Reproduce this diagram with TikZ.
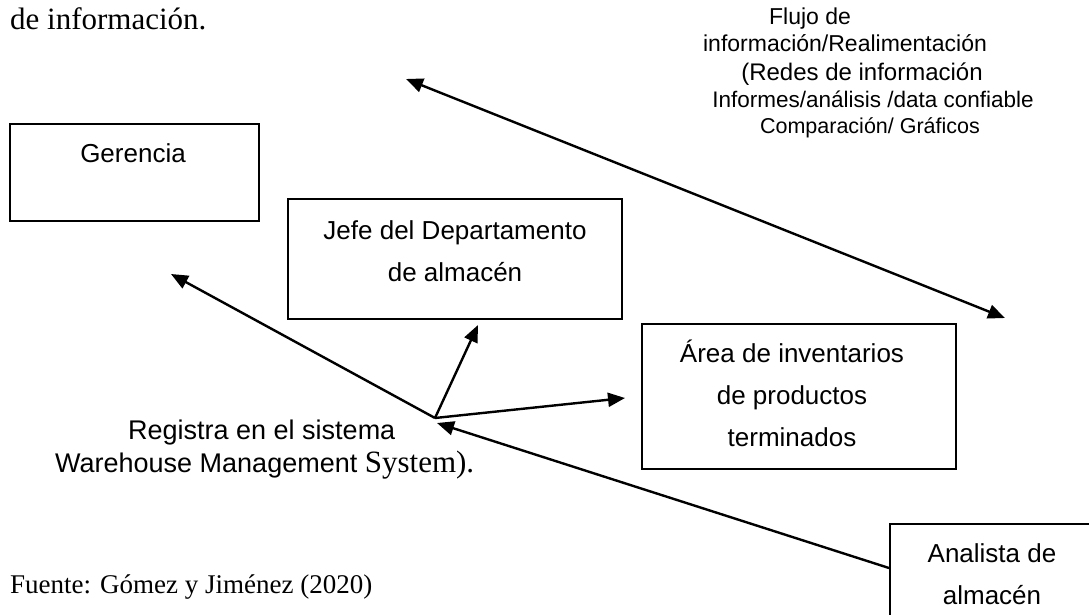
\documentclass[tikz,border=0pt]{standalone}
\usepackage{fontspec}
\setmainfont{Liberation Serif}
\setsansfont{Liberation Sans}
\usetikzlibrary{arrows.meta}
\newcommand{\fs}[1]{\fontsize{#1}{#1}\selectfont}
\begin{document}
\begin{tikzpicture}[x=1pt,y=-1pt,
  box/.style={draw,line width=2pt,inner sep=0pt,anchor=north west},
  lbl/.style={font=\sffamily\fs{26},anchor=base,inner sep=0pt},
  toplbl/.style={anchor=base,inner sep=0pt},
  arr/.style={line width=2.4pt,-{Triangle[length=17pt,width=14pt]}},
  darr/.style={line width=2.4pt,{Triangle[length=17pt,width=14pt]}-{Triangle[length=17pt,width=14pt]}}]
\useasboundingbox (0,0) rectangle (1089,615);
% heading fragment and source
\node[anchor=base west,inner sep=0pt,font=\rmfamily\fs{31}] (head) at (10,30) {de información.};
\node[anchor=base west,inner sep=0pt,font=\rmfamily\fs{27}] (src) at (10,593) {Fuente: Gómez y Jiménez (2020)};
% boxes
\node[box,minimum width=249pt,minimum height=97pt] (ger) at (9,123) {};
\node[lbl] (gert) at (133,162) {Gerencia};
\node[box,minimum width=334pt,minimum height=120pt] (jefe) at (287,198) {};
\node[lbl] (jefe1) at (455,239) {Jefe del Departamento};
\node[lbl] (jefe2) at (455,281) {de almacén};
\node[box,minimum width=314pt,minimum height=145pt] (area) at (641,323) {};
\node[lbl] (area1) at (792,362) {Área de inventarios};
\node[lbl] (area2) at (792,404) {de productos};
\node[lbl] (area3) at (792,446) {terminados};
\node[box,minimum width=215pt,minimum height=120pt] (ana) at (889,523) {};
\node[lbl] (ana1) at (992,562) {Analista de};
\node[lbl] (ana2) at (992,604) {almacén};
% top right text
\node[toplbl,font=\sffamily\fs{23}] (t1) at (810,25) {Flujo de};
\node[toplbl,font=\sffamily\fs{23}] (t2) at (845,52) {información/Realimentación};
\node[toplbl,font=\sffamily\fs{24}] (t3) at (862,81) {(Redes de información};
\node[toplbl,font=\sffamily\fs{22.5}] (t4) at (873,108) {Informes/análisis /data confiable};
\node[toplbl,font=\sffamily\fs{21.5}] (t5) at (870,134) {Comparación/ Gráficos};
% register text
\node[anchor=base west,inner sep=0pt,font=\sffamily\fs{27}] (reg1) at (128,439) {Registra en el sistema};
\node[anchor=base west,inner sep=0pt,font=\sffamily\fs{27}] (reg2) at (55,472) {Warehouse Management {\rmfamily\fs{31}System).}};
% connectors
\coordinate (J) at (435,418);
\coordinate (Jb) at (437,423);
\coordinate (tipL) at (171,274);
\coordinate (tipJ) at (478,325);
\coordinate (tipA) at (625,398);
\coordinate (anaL) at (889,568);
\coordinate (fl1) at (406,79);
\coordinate (fl2) at (1005,318);
\draw[arr] (J) -- (tipL);
\draw[arr] (J) -- (tipJ);
\draw[arr] (J) -- (tipA);
\draw[arr] (anaL) -- (Jb);
\draw[darr] (fl1) -- (fl2);
\end{tikzpicture}
\end{document}
